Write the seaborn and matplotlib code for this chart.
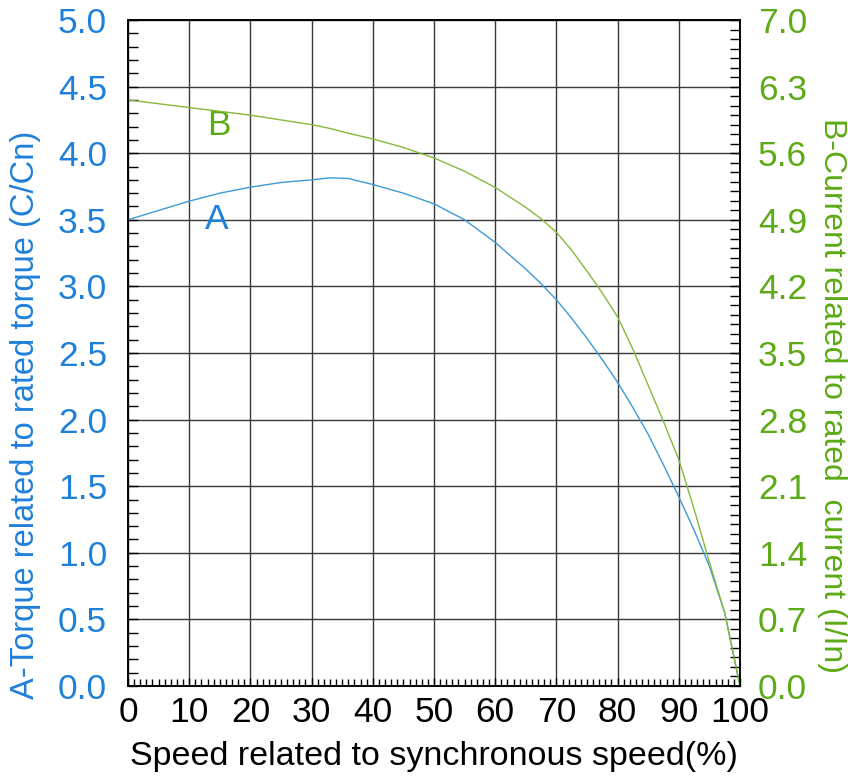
import numpy as np
import pandas as pd
import matplotlib
matplotlib.use("Agg")
import matplotlib.pyplot as plt
import seaborn as sns
from matplotlib.ticker import MultipleLocator, FormatStrFormatter

speed = [0, 5, 10, 15, 20, 25, 30, 33, 36, 40, 45, 50, 55, 60, 65, 67.5, 70, 72.5, 75, 77.5, 80,
         82.5, 85, 87.5, 90, 92.5, 95, 97.5, 100]
torque = [3.50, 3.57, 3.64, 3.70, 3.745, 3.78, 3.80, 3.815, 3.81, 3.765, 3.70, 3.62, 3.50, 3.33,
          3.13, 3.02, 2.90, 2.76, 2.61, 2.45, 2.28, 2.09, 1.89, 1.66, 1.42, 1.17, 0.90, 0.55, 0.0]
current = [6.16, 6.12, 6.08, 6.04, 6.00, 5.95, 5.90, 5.86, 5.81, 5.75, 5.66, 5.55, 5.41, 5.24,
           5.03, 4.91, 4.77, 4.58, 4.36, 4.13, 3.88, 3.54, 3.16, 2.78, 2.38, 1.86, 1.30, 0.77, 0.0]

left_ticks = [0.0, 0.5, 1.0, 1.5, 2.0, 2.5, 3.0, 3.5, 4.0, 4.5, 5.0]
right_ticks = [0.0, 0.7, 1.4, 2.1, 2.8, 3.5, 4.2, 4.9, 5.6, 6.3, 7.0]
x_ticks = [0, 10, 20, 30, 40, 50, 60, 70, 80, 90, 100]

xlabel = "Speed related to synchronous speed(%)"
ylabel_left = "A-Torque related to rated torque (C/Cn)"
ylabel_right = "B-Current related to rated  current (I/In)"

BLUE_TXT = "#1F80DA"
GREEN_TXT = "#5CAA16"
BLUE_LINE = "#3D9AD6"
GREEN_LINE = "#86B83A"

sns.set_theme(style="white")
plt.rcParams['font.family'] = ['Liberation Sans', 'DejaVu Sans']

df = pd.DataFrame({"speed": speed, "torque": torque, "current": current})

W, H = 848, 778
fig = plt.figure(figsize=(W / 100, H / 100), dpi=100)
L, R, T, B = 128, 740, 20, 686
ax = fig.add_axes([L / W, 1 - B / H, (R - L) / W, (B - T) / H])
ax2 = ax.twinx()

sns.lineplot(data=df, x="speed", y="torque", ax=ax, color=BLUE_LINE, linewidth=1.0)
sns.lineplot(data=df, x="speed", y="current", ax=ax2, color=GREEN_LINE, linewidth=1.0)

ax.set_xlim(0, 100)
ax.set_ylim(0, 5)
ax2.set_ylim(0, 7)

ax.set_xticks(x_ticks)
ax.set_yticks(left_ticks)
ax2.set_yticks(right_ticks)
ax.xaxis.set_minor_locator(MultipleLocator(1))
ax.yaxis.set_minor_locator(MultipleLocator(0.1))
ax2.yaxis.set_minor_locator(MultipleLocator(0.1))
ax.yaxis.set_major_formatter(FormatStrFormatter('%.1f'))
ax2.yaxis.set_major_formatter(FormatStrFormatter('%.1f'))

ax.grid(True, which='major', color='#3a3a3a', linewidth=1.0)
ax2.grid(False)
ax.set_axisbelow(True)

ax.tick_params(axis='x', which='both', direction='in', bottom=True, top=False,
               labelsize=25.5, pad=7, colors='black', width=1)
ax.tick_params(axis='x', which='major', length=6)
ax.tick_params(axis='x', which='minor', length=5)
ax.tick_params(axis='y', which='both', direction='in', left=True, right=False,
               labelsize=25.5, pad=15, width=1, color='black', labelcolor=BLUE_TXT)
ax.tick_params(axis='y', which='major', length=7)
ax.tick_params(axis='y', which='minor', length=7)
ax2.tick_params(axis='y', which='both', direction='in', right=True, left=False,
                labelsize=25.5, pad=13, width=1, color='black', labelcolor=GREEN_TXT)
ax2.tick_params(axis='y', which='major', length=7)
ax2.tick_params(axis='y', which='minor', length=7)

for a in (ax, ax2):
    for s in a.spines.values():
        s.set_color('black')
        s.set_linewidth(1.2)
        s.set_visible(True)

ax.set_xlabel(xlabel, fontsize=24.5, color='black')
ax.xaxis.set_label_coords(0.5, (B - 756) / (B - T), transform=ax.transAxes)
ax.xaxis.label.set_va('center')

ax.set_ylabel(ylabel_left, fontsize=23.5, color=BLUE_TXT)
ax.yaxis.set_label_coords((26 - L) / (R - L), (B - 415) / (B - T))
ax.yaxis.label.set_va('center')

ax2.set_ylabel(ylabel_right, fontsize=23, color=GREEN_TXT, rotation=270)
ax2.yaxis.set_label_coords((832 - L) / (R - L), (B - 395) / (B - T))
ax2.yaxis.label.set_va('center')

ax.text(14.5, 3.50, "A", fontsize=25.5, color=BLUE_TXT, ha='center', va='center')
ax.text(14.8, 4.205, "B", fontsize=25.5, color=GREEN_TXT, ha='center', va='center')

fig.savefig("out.png", dpi=100, facecolor='white')
